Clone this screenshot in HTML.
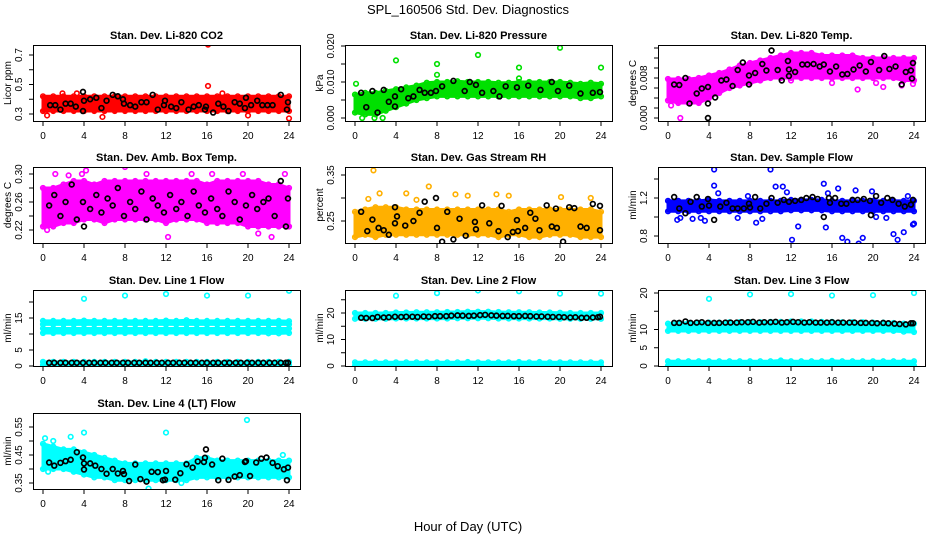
<!DOCTYPE html>
<html><head><meta charset="utf-8">
<style>
html,body{margin:0;padding:0;background:#fff;}
svg{display:block;font-family:"Liberation Sans",sans-serif;}
</style></head>
<body>
<svg id="chart" width="936" height="540" viewBox="0 0 936 540" xmlns="http://www.w3.org/2000/svg">
<rect x="0" y="0" width="936" height="540" fill="#fff"/>
<text x="468" y="14" text-anchor="middle" font-size="13">SPL_160506  Std. Dev. Diagnostics</text>
<text x="468" y="531" text-anchor="middle" font-size="13">Hour of Day (UTC)</text>
</svg>
<script>
const NS="http://www.w3.org/2000/svg";
const svg=document.getElementById('chart');
const hours=[0,1,2,3,4,5,6,7,8,9,10,11,12,13,14,15,16,17,18,19,20,21,22,23,24];
const xTicks=[0,4,8,12,16,20,24];

// P1 CO2
const co2Lo=[.32,.32,.32,.32,.32,.32,.32,.32,.32,.32,.32,.32,.32,.32,.32,.32,.32,.32,.32,.32,.32,.32,.32,.32,.32];
const co2Hi=[.42,.42,.42,.42,.42,.42,.42,.42,.42,.42,.42,.42,.42,.42,.42,.42,.42,.42,.42,.42,.42,.42,.42,.42,.42];
const co2BlackX=[0.7,1.2,1.7,2.2,2.7,3.2,3.9,3.9,4,4.6,5.2,5.7,6.2,6.8,7.3,7.8,7.9,8.5,9,9.6,10.1,10.7,11.2,11.8,11.9,12.5,13,13.5,14.2,14.7,15.2,15.8,15.9,16.6,17.1,17.6,18.1,18.7,19.2,19.7,19.8,20.3,20.9,21.4,21.9,22.4,23.2,23.8,23.9];
const co2BlackY=[.36,.36,.33,.37,.37,.35,.32,.45,.39,.40,.41,.34,.39,.43,.42,.40,.37,.36,.35,.38,.38,.43,.33,.36,.39,.35,.34,.38,.33,.35,.36,.33,.35,.31,.37,.35,.32,.38,.37,.34,.41,.36,.39,.36,.36,.36,.43,.33,.38];
const co2OutX=[16.1,16.1,0.4,5.8,24,20,3.3,17.5,1.9];
const co2OutY=[.77,.49,.29,.28,.27,.29,.44,.44,.44];

// P2 Pressure
const prLo=[.0015,.001,.001,.002,.003,.004,.005,.0055,.006,.006,.006,.006,.006,.006,.006,.006,.006,.006,.006,.006,.006,.006,.0055,.0055,.006];
const prHi=[.0065,.007,.007,.0075,.008,.0085,.009,.0098,.010,.010,.0102,.010,.010,.010,.0098,.0098,.010,.010,.010,.010,.010,.0098,.0095,.0098,.0095];
const prBlackX=[0.6,1.1,1.7,2.2,2.8,3.3,3.9,3.9,4.5,5.2,5.7,6.3,6.8,7.4,7.9,8.5,9.6,10.7,11.2,11.8,12.4,13.5,14.1,14.7,15.8,16.9,18.1,19.2,19.8,20.9,22.0,23.2,23.9];
const prBlackY=[.007,.003,.0075,.0015,.0078,.0045,.006,.0032,.008,.0055,.006,.0078,.007,.007,.0075,.0088,.0103,.0075,.010,.0092,.007,.0075,.006,.0088,.0085,.009,.0078,.010,.0075,.009,.0068,.007,.0072];
const prOutX=[0.1,4,8,8,12,16,16,20,24,0.7,1.9,2.7];
const prOutY=[.0095,.016,.015,.012,.0175,.014,.011,.0195,.014,0,0,0];

// P3 Temp
const tpLo=[.0035,.003,.003,.003,.004,.005,.006,.0065,.007,.0075,.008,.008,.008,.008,.008,.008,.008,.008,.008,.008,.008,.008,.008,.0075,.0075];
const tpHi=[.0078,.0078,.0078,.008,.0085,.009,.0097,.0105,.011,.0115,.012,.0125,.013,.013,.013,.0125,.0125,.0125,.0125,.012,.012,.012,.012,.012,.012];
const tpBlackX=[0.6,1.1,1.7,2.1,2.8,3.3,3.9,3.9,4.6,5.2,5.7,6.3,6.8,7.3,7.9,7.9,8.5,9.2,9.6,10.1,10.7,11.1,11.7,11.8,11.8,12.4,13.1,13.6,14.2,14.8,15.2,15.8,16.4,17,17.5,18.1,18.7,19.3,19.8,20.6,21.1,21.6,22.2,22.8,23.2,23.7,23.8,23.9,3.9];
const tpBlackY=[.0067,.0066,.008,.0029,.0049,.0059,.0062,.0029,.0041,.0075,.0077,.0064,.0096,.0111,.0085,.0067,.009,.0108,.0095,.0135,.0096,.0075,.0114,.0084,.0097,.0092,.0107,.0107,.0108,.0103,.0107,.0093,.0103,.0087,.0088,.0097,.0105,.0093,.0112,.0096,.0124,.0098,.0103,.0067,.0092,.0095,.0079,.011,0];
const tpOutX=[1.2,0.3,3,12,16,18.5,20.3,21,22.8,23.9];
const tpOutY=[0,.0025,.0032,.0075,.007,.0057,.007,.0062,.0065,.0068];

// P4 Amb box temp
const abLo=[.225,.225,.23,.23,.235,.235,.23,.235,.235,.235,.235,.235,.23,.235,.235,.235,.23,.23,.23,.23,.225,.225,.225,.225,.225];
const abHi=[.28,.28,.285,.29,.29,.285,.29,.29,.29,.29,.29,.29,.29,.29,.29,.29,.285,.29,.29,.29,.29,.29,.285,.285,.28];
const abBlackX=[0.6,1.1,1.7,2.2,2.8,3.3,3.9,4.0,4.6,5.2,5.7,6.3,6.8,7.3,7.9,8.5,9.0,9.6,10.1,10.7,11.2,11.8,12.4,13.0,13.5,14.1,14.7,15.2,15.8,16.4,17.0,17.5,18.1,18.7,19.2,19.8,20.4,20.9,21.5,22.0,22.6,23.2,23.7,23.9];
const abBlackY=[.255,.27,.24,.26,.285,.235,.26,.225,.25,.27,.245,.265,.255,.28,.24,.26,.25,.275,.235,.265,.255,.245,.27,.25,.26,.24,.275,.255,.245,.265,.25,.24,.275,.26,.235,.255,.27,.25,.26,.265,.24,.29,.225,.265];
const abOutX=[1.2,3.8,4.2,8.0,10.1,12.2,16.5,19.5,23.6,0.4,21.0,22.3,2.5,14.5];
const abOutY=[.30,.30,.305,.31,.30,.21,.30,.30,.30,.22,.215,.21,.298,.30];

// P5 Gas stream RH
const rhLo=[.215,.22,.215,.22,.22,.22,.22,.22,.22,.22,.22,.22,.22,.22,.215,.22,.22,.215,.215,.22,.22,.22,.215,.215,.215];
const rhHi=[.27,.275,.28,.28,.28,.275,.275,.275,.275,.275,.275,.275,.275,.275,.275,.27,.275,.275,.275,.275,.275,.275,.275,.275,.27];
const rhBlackX=[0.6,1.2,1.7,2.3,2.8,3.3,3.9,3.9,4.1,4.9,5.7,6.3,6.8,7.9,8.0,8.5,9.0,9.6,10.2,10.8,11.7,11.8,12.4,13.1,14.0,14.3,14.9,15.4,15.8,15.9,16.6,17.1,17.6,18.0,18.7,19.2,19.6,19.7,20.3,20.9,21.4,22.0,22.6,23.2,23.9,23.9];
const rhBlackY=[.27,.228,.253,.235,.23,.22,.28,.245,.26,.24,.25,.268,.292,.30,.235,.205,.27,.21,.255,.218,.248,.232,.284,.245,.228,.283,.215,.226,.252,.228,.235,.268,.255,.23,.284,.238,.277,.235,.205,.28,.278,.238,.235,.287,.283,.23];
const rhOutX=[1.8,7.2,2.4,5.0,9.8,11.0,15.0,20.1,23.0,1.3,6.0,13.8];
const rhOutY=[.36,.325,.31,.31,.308,.305,.305,.302,.30,.298,.296,.308];

// P6 Sample flow
const sfLo=[1.06,1.06,1.06,1.06,1.06,1.06,1.06,1.06,1.06,1.06,1.06,1.06,1.07,1.07,1.07,1.07,1.06,1.06,1.06,1.06,1.06,1.06,1.06,1.06,1.06];
const sfHi=[1.17,1.17,1.17,1.17,1.18,1.17,1.17,1.17,1.17,1.17,1.17,1.17,1.18,1.18,1.18,1.18,1.17,1.17,1.17,1.17,1.17,1.17,1.17,1.17,1.17];
const sfBlackX=[0.6,1.1,1.7,2.2,2.8,3.3,3.9,4.0,4.5,5.1,5.7,6.3,6.8,7.4,7.9,8.0,8.5,9.0,9.6,10.1,10.7,11.3,11.8,12.4,13.0,13.5,14.1,14.6,15.2,15.7,15.8,16.3,16.9,17.4,18.0,18.5,19.1,19.7,19.8,20.3,20.8,21.4,21.9,22.5,23.1,23.7,23.9];
const sfBlackY=[1.21,1.09,1.04,1.16,1.21,1.11,1.19,1.12,0.97,1.11,1.15,1.09,1.09,1.09,1.14,1.1,1.21,1.09,1.14,1.2,1.15,1.18,1.16,1.17,1.18,1.2,1.21,1.19,1.0,1.2,1.15,1.2,1.14,1.14,1.18,1.18,1.19,1.17,1.02,1.22,1.15,1.2,1.18,1.14,1.11,1.13,1.18];
const sfOutX=[0.9,1.2,2.4,3.2,4.5,4.5,4.9,7.8,8.6,9.2,10.0,10.5,11.2,11.6,12.1,12.7,15.2,15.4,15.6,16.6,17.0,17.5,18.3,18.6,19.0,19.9,22.0,22.4,23.0,23.4,23.9,24.0,3.6,6.8,20.3,21.3];
const sfOutY=[0.97,0.99,0.98,0.99,1.50,1.33,1.25,1.22,0.94,0.98,1.50,1.32,1.32,1.26,0.76,0.90,1.35,0.89,1.25,1.30,0.78,0.74,1.28,0.72,0.78,1.27,0.82,0.76,0.84,1.22,0.92,0.93,0.96,0.99,1.0,0.99];

// P7 Line 1 flow
const l1LoA=[10.3,10.3,10.3,10.3,10.3,10.3,10.3,10.3,10.3,10.3,10.3,10.3,10.3,10.3,10.3,10.3,10.3,10.3,10.3,10.3,10.3,10.3,10.2,10.2,10.3];
const l1HiA=[11.7,11.7,11.7,11.7,11.7,11.7,11.7,11.7,11.7,11.7,11.7,11.7,11.7,11.7,11.7,11.7,11.7,11.7,11.7,11.7,11.7,11.7,11.7,11.7,11.7];
const l1LoB=[13.0,13.0,13.0,13.0,13.0,13.0,13.0,13.0,13.0,13.0,13.0,13.0,13.0,13.0,13.0,13.0,13.0,13.0,13.0,13.0,13.0,13.0,13.0,13.0,13.0];
const l1HiB=[14.1,14.1,14.1,14.1,14.2,14.1,14.1,14.1,14.1,14.1,14.1,14.1,14.2,14.1,14.3,14.1,14.1,14.1,14.1,14.1,14.1,14.1,14.1,14.1,14.0];
const l1LoC=[0.3,0.3,0.3,0.3,0.3,0.3,0.3,0.3,0.3,0.3,0.3,0.3,0.3,0.3,0.3,0.3,0.3,0.3,0.3,0.3,0.3,0.3,0.3,0.3,0.3];
const l1HiC=[1.3,1.3,1.3,1.3,1.3,1.3,1.3,1.3,1.3,1.3,1.5,1.3,1.3,1.3,1.3,1.3,1.3,1.3,1.3,1.3,1.3,1.3,1.3,1.3,1.3];
const l1BlackX=[0.6,1.1,1.7,2.2,2.8,3.3,3.9,4.5,5.0,5.6,6.1,6.7,7.2,7.8,8.3,8.9,9.4,10.0,10.5,11.1,11.6,12.2,12.7,13.3,13.8,14.4,14.9,15.5,16.0,16.6,17.1,17.7,18.2,18.8,19.3,19.9,20.4,21.0,21.5,22.1,22.6,23.2,23.7,23.9];
const l1BlackY=[1,1,1,1,1,1,1,1,1,1,1,1,1,1,1,1,1,1,1,1,1,1,1,1,1,1,1,1,1,1,1,1,1,1,1,1,1,1,1,1,1,1,1,1];
const l1OutX=[4,8,12,16,20,24];
const l1OutY=[21,22,22.5,22,22,23.5];

// P8 Line 2 flow
const l2LoA=[17.8,17.8,17.8,17.8,17.9,17.9,17.9,17.9,17.9,17.9,18.0,18.0,18.0,18.0,17.9,17.9,17.9,17.9,17.9,17.9,17.8,17.8,17.8,17.8,17.8];
const l2HiA=[20.0,20.0,20.0,20.0,20.2,20.2,20.3,20.3,20.3,20.4,20.4,20.5,20.5,20.5,20.4,20.3,20.3,20.3,20.2,20.2,20.1,20.0,20.0,20.0,20.0];
const l2LoB=[0.1,0.1,0.1,0.1,0.1,0.1,0.1,0.1,0.1,0.1,0.1,0.1,0.1,0.1,0.1,0.1,0.1,0.1,0.1,0.1,0.1,0.1,0.1,0.1,0.1];
const l2HiB=[1.4,1.4,1.4,1.4,1.4,1.4,1.4,1.4,1.4,1.4,1.4,1.5,1.4,1.4,1.4,1.4,1.5,1.4,1.5,1.4,1.4,1.4,1.4,1.4,1.4];
const l2BlackX=[0.6,1.1,1.7,2.2,2.8,3.3,3.9,4.5,5.0,5.6,6.1,6.7,7.2,7.8,8.3,8.9,9.4,10.0,10.5,11.1,11.6,12.2,12.7,13.3,13.8,14.4,14.9,15.5,16.0,16.6,17.1,17.7,18.2,18.8,19.3,19.9,20.4,21.0,21.5,22.1,22.6,23.2,23.7,23.9];
const l2BlackY=[18.2,18.1,18.1,18.5,18.3,18.4,18.6,18.5,18.6,18.6,18.5,18.7,18.6,18.8,18.8,18.8,19.0,19.1,19.0,18.9,19.0,19.2,19.3,19.1,19.0,18.9,18.9,18.8,18.8,18.9,18.8,18.7,18.7,18.6,18.5,18.5,18.4,18.3,18.4,18.2,18.2,18.3,18.4,18.6];
const l2OutX=[4,8,12,16,20,24];
const l2OutY=[26.5,27.5,28.5,28.2,27.3,27.3];

// P9 Line 3 flow
const l3LoA=[9.6,9.6,9.6,9.6,9.6,9.6,9.6,9.6,9.6,9.6,9.6,9.6,9.6,9.6,9.6,9.6,9.6,9.6,9.6,9.6,9.6,9.6,9.6,9.4,9.3];
const l3HiA=[11.6,11.8,11.8,11.8,11.9,11.9,12.0,12.0,12.0,12.0,12.1,12.1,12.2,12.2,12.2,12.1,12.1,12.0,12.0,12.0,11.9,11.9,11.8,11.6,11.6];
const l3LoB=[0.1,0.1,0.1,0.1,0.1,0.1,0.1,0.1,0.1,0.1,0.1,0.1,0.1,0.1,0.1,0.1,0.1,0.1,0.1,0.1,0.1,0.1,0.1,0.1,0.1];
const l3HiB=[1.3,1.3,1.3,1.3,1.3,1.3,1.3,1.3,1.3,1.3,1.3,1.5,1.3,1.3,1.3,1.3,1.4,1.3,1.3,1.3,1.3,1.3,1.3,1.3,1.3];
const l3BlackX=[0.6,1.1,1.7,2.2,2.8,3.3,3.9,4.5,5.0,5.6,6.1,6.7,7.2,7.8,8.3,8.9,9.4,10.0,10.5,11.1,11.6,12.2,12.7,13.3,13.8,14.4,14.9,15.5,16.0,16.6,17.1,17.7,18.2,18.8,19.3,19.9,20.4,21.0,21.5,22.1,22.6,23.2,23.7,23.9];
const l3BlackY=[11.8,11.8,12.2,11.8,11.9,12.0,11.8,11.8,11.8,11.9,11.9,11.9,12.0,12.0,12.1,11.9,12.0,12.0,12.1,11.9,12.0,12.1,12.0,11.9,12.0,11.9,11.9,11.9,12.0,11.9,11.9,11.9,11.9,11.8,11.8,11.8,11.7,11.8,11.7,11.6,11.5,11.4,11.7,11.7];
const l3OutX=[4,8,12,16,20,24];
const l3OutY=[18.4,19.6,19.7,19.3,19.4,20.0];

// P10 Line 4 (LT) flow
const l4Lo=[.40,.40,.40,.39,.38,.37,.37,.36,.36,.36,.36,.36,.36,.36,.36,.37,.37,.37,.37,.37,.37,.37,.37,.37,.37];
const l4Hi=[.49,.48,.47,.47,.46,.45,.44,.43,.42,.42,.42,.42,.42,.42,.42,.44,.44,.43,.43,.43,.43,.43,.43,.43,.43];
const l4BlackX=[0.6,1.1,1.7,2.2,2.7,3.3,3.9,4.0,4.0,4.6,5.1,5.7,6.2,6.8,7.3,7.8,7.9,8.4,9.0,9.5,10.1,10.6,11.2,11.7,11.9,12.0,12.9,13.4,14.0,14.6,15.1,15.7,15.8,15.9,16.5,17.1,17.5,18.1,18.7,19.2,19.7,19.8,20.2,20.8,21.3,21.8,22.4,22.9,23.5,23.8,23.9];
const l4BlackY=[.423,.412,.422,.428,.433,.46,.441,.398,.420,.420,.412,.400,.383,.400,.384,.393,.382,.357,.416,.364,.355,.390,.389,.36,.362,.393,.362,.385,.417,.405,.427,.425,.44,.47,.416,.360,.437,.361,.373,.378,.425,.428,.375,.423,.437,.441,.422,.410,.399,.360,.405];
const l4OutX=[0.2,2.7,4.0,12.0,19.9,10.3,13.5,23.4,0.5,1.0];
const l4OutY=[.51,.515,.53,.53,.575,.33,.35,.45,.39,.50];

const panels=[
 {name:'li820-co2',title:'Stan. Dev. Li-820 CO2',ylab:'Licor ppm',L:33,T:45,v1:.3,p1:114,v2:.7,p2:55,ticks:[.3,.4,.5,.6,.7],labels:['0.3','','0.5','','0.7'],col:'#ff0000',bands:[[co2Lo,co2Hi]],bx:co2BlackX,by:co2BlackY,ox:co2OutX,oy:co2OutY},
 {name:'li820-pressure',title:'Stan. Dev. Li-820 Pressure',ylab:'kPa',L:345,T:45,v1:0,p1:118,v2:.02,p2:46,ticks:[0,.005,.01,.015,.02],labels:['0.000','','0.010','','0.020'],col:'#00e000',bands:[[prLo,prHi]],bx:prBlackX,by:prBlackY,ox:prOutX,oy:prOutY},
 {name:'li820-temp',title:'Stan. Dev. Li-820 Temp.',ylab:'degrees C',L:658,T:45,v1:0,p1:118,v2:.008,p2:78,ticks:[0,.002,.004,.006,.008,.01,.012,.014],labels:['0.000','','','','0.008','','',''],col:'#ff00ff',bands:[[tpLo,tpHi]],bx:tpBlackX,by:tpBlackY,ox:tpOutX,oy:tpOutY},
 {name:'amb-box-temp',title:'Stan. Dev. Amb. Box Temp.',ylab:'degrees C',L:33,T:167,v1:.30,p1:174,v2:.22,p2:230,ticks:[.22,.24,.26,.28,.30],labels:['0.22','','0.26','','0.30'],col:'#ff00ff',bands:[[abLo,abHi]],bx:abBlackX,by:abBlackY,ox:abOutX,oy:abOutY},
 {name:'gas-stream-rh',title:'Stan. Dev. Gas Stream RH',ylab:'percent',L:345,T:167,v1:.35,p1:175,v2:.25,p2:221,ticks:[.25,.30,.35],labels:['0.25','','0.35'],col:'#ffb000',bands:[[rhLo,rhHi]],bx:rhBlackX,by:rhBlackY,ox:rhOutX,oy:rhOutY},
 {name:'sample-flow',title:'Stan. Dev. Sample Flow',ylab:'ml/min',L:658,T:167,v1:1.2,p1:198,v2:.8,p2:236,ticks:[.8,1.0,1.2,1.4],labels:['0.8','','1.2',''],col:'#0000ff',bands:[[sfLo,sfHi]],bx:sfBlackX,by:sfBlackY,ox:sfOutX,oy:sfOutY},
 {name:'line1-flow',title:'Stan. Dev. Line 1 Flow',ylab:'ml/min',L:33,T:290,v1:0,p1:366,v2:20,p2:302,ticks:[0,5,10,15,20],labels:['0','5','','15',''],col:'#00ffff',bands:[[l1LoA,l1HiA],[l1LoB,l1HiB],[l1LoC,l1HiC]],bx:l1BlackX,by:l1BlackY,ox:l1OutX,oy:l1OutY},
 {name:'line2-flow',title:'Stan. Dev. Line 2 Flow',ylab:'ml/min',L:345,T:290,v1:0,p1:366,v2:20,p2:313,ticks:[0,5,10,15,20,25],labels:['0','','10','','20',''],col:'#00ffff',bands:[[l2LoA,l2HiA],[l2LoB,l2HiB]],bx:l2BlackX,by:l2BlackY,ox:l2OutX,oy:l2OutY},
 {name:'line3-flow',title:'Stan. Dev. Line 3 Flow',ylab:'ml/min',L:658,T:290,v1:0,p1:366,v2:20,p2:293,ticks:[0,5,10,15,20],labels:['0','5','10','','20'],col:'#00ffff',bands:[[l3LoA,l3HiA],[l3LoB,l3HiB]],bx:l3BlackX,by:l3BlackY,ox:l3OutX,oy:l3OutY},
 {name:'line4-lt-flow',title:'Stan. Dev. Line 4 (LT) Flow',ylab:'ml/min',L:33,T:413,v1:.35,p1:483,v2:.55,p2:427,ticks:[.35,.40,.45,.50,.55],labels:['0.35','','0.45','','0.55'],col:'#00ffff',bands:[[l4Lo,l4Hi]],bx:l4BlackX,by:l4BlackY,ox:l4OutX,oy:l4OutY}
];

const W=267,H=76;
function el(tag,parent){const e=document.createElementNS(NS,tag);parent.appendChild(e);return e;}

panels.forEach((p,pi)=>{
  const g=el('g',svg);
  
  
  const xs=h=>p.L+10+h*(246/24);
  const ys=v=>p.p1+(v-p.v1)*(p.p2-p.p1)/(p.v2-p.v1);
  const cp=el('clipPath',g);cp.setAttribute('id','c'+pi);
  const cr=el('rect',cp);cr.setAttribute('x',p.L);cr.setAttribute('y',p.T);cr.setAttribute('width',W);cr.setAttribute('height',H);
  const plot=el('g',g);plot.setAttribute('clip-path','url(#c'+pi+')');
  
  
  p.bands.forEach((b,bi)=>{
    const lo=b[0],hi=b[1];
    let pts=[];
    hours.forEach((h,i)=>pts.push(xs(h)+','+ys(hi[i])));
    for(let i=hours.length-1;i>=0;i--)pts.push(xs(hours[i])+','+ys(lo[i]));
    const poly=el('polygon',plot);
    poly.setAttribute('points',pts.join(' '));
    poly.setAttribute('fill',p.col);
    poly.setAttribute('stroke',p.col);
    poly.setAttribute('stroke-width','3');
    poly.setAttribute('stroke-linejoin','round');
    
    
    hours.forEach((h,i)=>{[lo[i],hi[i]].forEach(v=>{
      const c=el('circle',plot);
      c.setAttribute('cx',xs(h));c.setAttribute('cy',ys(v));c.setAttribute('r',2.3);
      c.setAttribute('fill','none');c.setAttribute('stroke',p.col);c.setAttribute('stroke-width',1.6);
      
      
    });});
  });
  p.ox.forEach((x,i)=>{
    const c=el('circle',plot);
    c.setAttribute('cx',xs(x));c.setAttribute('cy',ys(p.oy[i]));c.setAttribute('r',2.3);
    c.setAttribute('fill','none');c.setAttribute('stroke',p.col);c.setAttribute('stroke-width',1.6);
    
    
  });
  p.bx.forEach((x,i)=>{
    const c=el('circle',plot);
    c.setAttribute('cx',xs(x));c.setAttribute('cy',ys(p.by[i]));c.setAttribute('r',2.4);
    c.setAttribute('fill','none');c.setAttribute('stroke','#000');c.setAttribute('stroke-width',1.7);
    
    
  });
  const box=el('rect',g);
  box.setAttribute('x',p.L+0.5);box.setAttribute('y',p.T+0.5);box.setAttribute('width',W);box.setAttribute('height',H);
  box.setAttribute('fill','none');box.setAttribute('stroke','#000');box.setAttribute('stroke-width',1);
  
  
  const t=el('text',g);
  t.setAttribute('x',p.L+W/2);t.setAttribute('y',p.T-6);t.setAttribute('text-anchor','middle');
  t.setAttribute('font-size','11');t.setAttribute('font-weight','bold');
  t.textContent=p.title;
  
  
  xTicks.forEach(h=>{
    const tl=el('line',g);
    tl.setAttribute('x1',xs(h));tl.setAttribute('x2',xs(h));tl.setAttribute('y1',p.T+H+1);tl.setAttribute('y2',p.T+H+5);
    tl.setAttribute('stroke','#000');
    
    
    const tx=el('text',g);
    tx.setAttribute('x',xs(h));tx.setAttribute('y',p.T+H+18);tx.setAttribute('text-anchor','middle');tx.setAttribute('font-size','10');
    tx.textContent=h;
    
    
  });
  p.ticks.forEach((v,i)=>{
    const y=ys(v);
    if(y<p.T-1||y>p.T+H+1)return;
    const tl=el('line',g);
    tl.setAttribute('x1',p.L-4);tl.setAttribute('x2',p.L);tl.setAttribute('y1',y);tl.setAttribute('y2',y);
    tl.setAttribute('stroke','#000');
    
    
    if(p.labels[i]){
      const tx=el('text',g);
      tx.setAttribute('transform','translate('+(p.L-11)+','+y+') rotate(-90)');
      tx.setAttribute('text-anchor','middle');tx.setAttribute('font-size','10');
      tx.textContent=p.labels[i];
      
      
    }
  });
  const yl=el('text',g);
  yl.setAttribute('transform','translate('+(p.L-22)+','+(p.T+H/2)+') rotate(-90)');
  yl.setAttribute('text-anchor','middle');yl.setAttribute('font-size','10');
  yl.textContent=p.ylab;
  
  
});
</script>
</body></html>
